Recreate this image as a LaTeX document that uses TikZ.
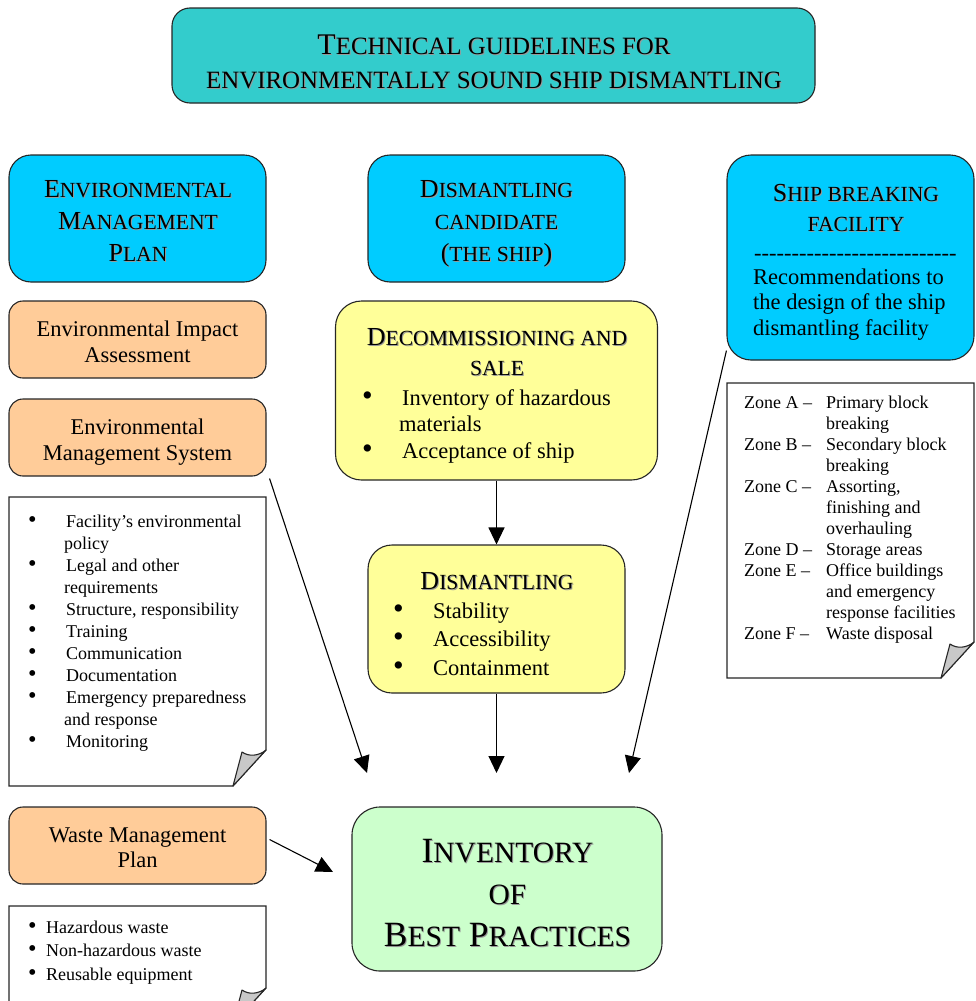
\documentclass[tikz,border=0pt]{standalone}
\usepackage{fontspec}
\usepackage{graphicx}
\setmainfont{Liberation Serif}
\usetikzlibrary{arrows.meta,calc}
\definecolor{tealbox}{HTML}{33CCCC}
\definecolor{cyanbox}{HTML}{00CCFF}
\definecolor{orangebox}{HTML}{FFCC99}
\definecolor{yellowbox}{HTML}{FFFF99}
\definecolor{greenbox}{HTML}{CCFFCC}
\definecolor{foldgray}{HTML}{C8C8C8}
\makeatletter
\newcommand\smc[1]{{\fontsize{\the\dimexpr 83\dimexpr\f@size pt\relax/100\relax}{\f@baselineskip}\selectfont #1}}
\makeatother
\newcommand\shd[1]{\leavevmode\rlap{\kern1pt\raisebox{-1pt}{\color{black!40}#1}}#1}
\newcommand\fsz[2]{\fontsize{#1}{#2}\selectfont}
\newcommand\bul{\scalebox{1.35}{\textbullet}}
\newcommand\hy{\mbox{-}}
\newcommand\notebox[4]{%
  \filldraw[notestyle] (#1,#2) -- (#3,#2) -- (#3,#4-36) -- (#3-33,#4) -- (#1,#4) -- cycle;
  \filldraw[fill=foldgray,draw=black!85,line width=1.1pt,line join=round]
    (#3-33,#4) -- (#3-24,#4-34) .. controls (#3-17,#4-29) and (#3-7,#4-30) .. (#3,#4-36) -- cycle;}
\begin{document}
\begin{tikzpicture}[x=1pt,y=-1pt,
  box/.style={draw=black!85,line width=1.1pt,inner sep=0pt},
  notestyle/.style={fill=white,draw=black!85,line width=1.1pt,line join=miter},
  txt/.style={inner sep=0pt,anchor=base},
  ltxt/.style={inner sep=0pt,anchor=base west},
  arr/.style={line width=1.1pt,-{Triangle[length=17pt,width=16pt]}}]
\useasboundingbox (0,0) rectangle (975,1001);
\clip (0,0) rectangle (975,1001);

% title
\node[box,fill=tealbox,rounded corners=18pt,minimum width=643pt,minimum height=95pt] (title) at (493.5,55.5) {};
\node[txt,font=\fsz{30}{34}] (titletxt) at (494,54) {\begin{tabular}[t]{@{}c@{}}\shd{T\smc{ECHNICAL GUIDELINES FOR}}\\\shd{\smc{ENVIRONMENTALLY SOUND SHIP DISMANTLING}}\end{tabular}};

% blue headers
\node[box,fill=cyanbox,rounded corners=22pt,minimum width=257pt,minimum height=127pt] (emp) at (137.5,218.5) {};
\node[txt,font=\fsz{26}{32}] (emptxt) at (138,197) {\begin{tabular}[t]{@{}c@{}}\shd{E\smc{NVIRONMENTAL}}\\\shd{M\smc{ANAGEMENT}}\\\shd{P\smc{LAN}}\end{tabular}};

\node[box,fill=cyanbox,rounded corners=22pt,minimum width=257pt,minimum height=127pt] (cand) at (496.5,218.5) {};
\node[txt,font=\fsz{26}{32}] (candtxt) at (496.5,197) {\begin{tabular}[t]{@{}c@{}}\shd{D\smc{ISMANTLING}}\\\shd{\smc{CANDIDATE}}\\\shd{(\smc{THE SHIP})}\end{tabular}};

\node[box,fill=cyanbox,rounded corners=24pt,minimum width=247pt,minimum height=205pt] (ship) at (850.5,257.5) {};
\node[txt,font=\fsz{26}{30}] (shiptxt) at (856,201) {\begin{tabular}[t]{@{}c@{}}\shd{S\smc{HIP BREAKING}}\\\shd{\smc{FACILITY}}\end{tabular}};
\node[ltxt,font=\fsz{22.5}{25.5}] (shipdash) at (754,260) {\hy\hy\hy\hy\hy\hy\hy\hy\hy\hy\hy\hy\hy\hy\hy\hy\hy\hy\hy\hy\hy\hy\hy\hy\hy\hy\hy};
\node[ltxt,font=\fsz{22.5}{25.5}] (shipbody) at (753,284) {\begin{tabular}[t]{@{}l@{}}Recommendations to\\the design of the ship\\dismantling facility\end{tabular}};

% orange boxes
\node[box,fill=orangebox,rounded corners=14pt,minimum width=257pt,minimum height=77pt] (eia) at (137.5,339.5) {};
\node[txt,font=\fsz{22.5}{26}] (eiatxt) at (137.5,336) {\begin{tabular}[t]{@{}c@{}}Environmental Impact\\Assessment\end{tabular}};

\node[box,fill=orangebox,rounded corners=14pt,minimum width=257pt,minimum height=77pt] (ems) at (137.5,437.5) {};
\node[txt,font=\fsz{22.5}{26}] (emstxt) at (137.5,434) {\begin{tabular}[t]{@{}c@{}}Environmental\\Management System\end{tabular}};

\node[box,fill=orangebox,rounded corners=14pt,minimum width=257pt,minimum height=77pt] (wmp) at (137.5,845.5) {};
\node[txt,font=\fsz{22.5}{25.5}] (wmptxt) at (137.5,842) {\begin{tabular}[t]{@{}c@{}}Waste Management\\Plan\end{tabular}};

% notes
\notebox{9}{497}{266}{786}
\node[ltxt,font=\fsz{18}{22}] (emslist) at (28,527) {\begin{tabular}[t]{@{}p{38pt}@{}l@{}}
\bul & Facility’s environmental\\
 & \hspace*{-2pt}policy\\
\bul & Legal and other\\
 & \hspace*{-2pt}requirements\\
\bul & Structure, responsibility\\
\bul & Training\\
\bul & Communication\\
\bul & Documentation\\
\bul & Emergency preparedness\\
 & \hspace*{-2pt}and response\\
\bul & Monitoring
\end{tabular}};

\notebox{9}{906}{266}{1024}
\node[ltxt,font=\fsz{18}{23.5}] (wastelist) at (28,933) {\begin{tabular}[t]{@{}p{18pt}@{}l@{}}
\bul & Hazardous waste\\
\bul & Non-hazardous waste\\
\bul & Reusable equipment
\end{tabular}};

\notebox{727}{383}{974}{678}
\node[ltxt,font=\fsz{18}{21}] (zones) at (744,408) {\begin{tabular}[t]{@{}p{82pt}@{}l@{}}
Zone A – & Primary block\\
 & breaking\\
Zone B – & Secondary block\\
 & breaking\\
Zone C – & Assorting,\\
 & finishing and\\
 & overhauling\\
Zone D – & Storage areas\\
Zone E – & Office buildings\\
 & and emergency\\
 & response facilities\\
Zone F – & Waste disposal
\end{tabular}};

% yellow boxes
\node[box,fill=yellowbox,rounded corners=26pt,minimum width=322pt,minimum height=179pt] (dec) at (496.5,390.5) {};
\node[txt,font=\fsz{26}{30.5}] (dechead) at (497,345) {\begin{tabular}[t]{@{}c@{}}\shd{D\smc{ECOMMISSIONING AND}}\\\shd{\smc{SALE}}\end{tabular}};
\node[ltxt,font=\fsz{22.5}{26.5}] (decbody) at (362,405) {\begin{tabular}[t]{@{}p{40pt}@{}l@{}}
\bul & Inventory of hazardous\\
 & \hspace*{-3pt}materials\\
\bul & Acceptance of ship
\end{tabular}};

\node[box,fill=yellowbox,rounded corners=24pt,minimum width=257pt,minimum height=148pt] (dis) at (496.5,619) {};
\node[txt,font=\fsz{26}{30}] (dishead) at (497,589) {\shd{D\smc{ISMANTLING}}};
\node[ltxt,font=\fsz{22.5}{28.5}] (disbody) at (393,618) {\begin{tabular}[t]{@{}p{40pt}@{}l@{}}
\bul & Stability\\
\bul & Accessibility\\
\bul & Containment
\end{tabular}};

% green box
\node[box,fill=greenbox,rounded corners=28pt,minimum width=310pt,minimum height=164pt] (bp) at (507,889) {};
\node[txt,font=\fsz{35.5}{42}] (bptxt) at (507.5,862) {\begin{tabular}[t]{@{}c@{}}\shd{I\smc{NVENTORY}}\\\shd{\smc{OF}}\\\shd{B\smc{EST} P\smc{RACTICES}}\end{tabular}};

% arrow ends
\coordinate (e1) at (367,773);
\coordinate (e2) at (496.5,773);
\coordinate (e3) at (629,773);
\coordinate (e4) at (333,872);

% connectors
\draw[arr] ($(ems.south east)+(3,2)$) -- (e1);
\draw[arr] (dec.south) -- (dis.north);
\draw[arr] (dis.south) -- (e2);
\draw[arr] ($(ship.south west)+(0,-10)$) -- (e3);
\draw[arr] ($(wmp.east)+(3,-6)$) -- (e4);
\end{tikzpicture}
\end{document}
